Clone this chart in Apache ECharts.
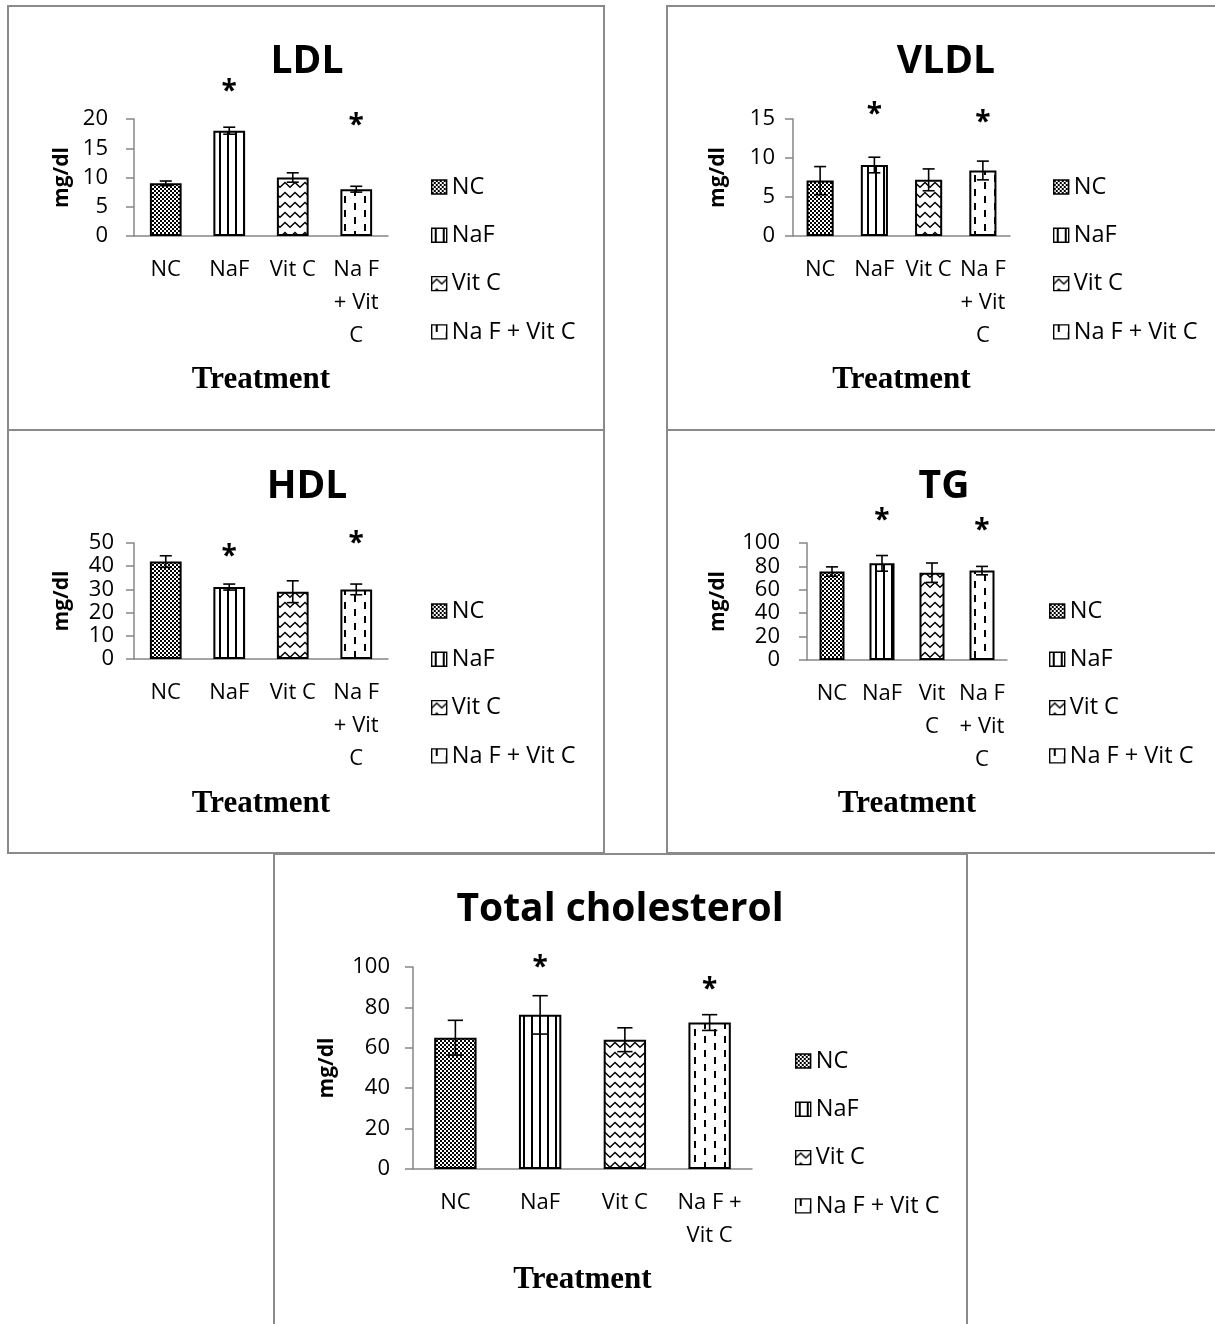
<!DOCTYPE html>
<html>
<head>
<meta charset="utf-8">
<script src="https://cdn.jsdelivr.net/npm/echarts@6/dist/echarts.min.js"></script>
<style>
html,body{margin:0;padding:0;background:#fff;}
#chart{width:1215px;height:1324px;}
</style>
</head>
<body>
<div id="chart"></div>
<script>
// ---------------- data ----------------
const categories = ['NC', 'NaF', 'Vit C', 'Na F + Vit C'];

const ldlTicks  = ['NC', 'NaF', 'Vit C', 'Na F\n+ Vit\nC'];
const vldlTicks = ['NC', 'NaF', 'Vit C', 'Na F\n+ Vit\nC'];
const hdlTicks  = ['NC', 'NaF', 'Vit C', 'Na F\n+ Vit\nC'];
const tgTicks   = ['NC', 'NaF', 'Vit\nC', 'Na F\n+ Vit\nC'];
const tcTicks   = ['NC', 'NaF', 'Vit C', 'Na F +\nVit C'];

const ldlMean  = [9, 18, 10, 8];
const ldlErr   = [0.4, 0.6, 0.8, 0.5];
const ldlStar  = [null, 25.6, null, 19.8];

const vldlMean = [7.1, 9.1, 7.2, 8.4];
const vldlErr  = [1.8, 1.0, 1.4, 1.2];
const vldlStar = [null, 16.3, null, 15.2];

const hdlMean  = [42, 31, 29, 30];
const hdlErr   = [2.5, 1.3, 4.7, 2.3];
const hdlStar  = [null, 46.4, null, 52.3];

const tgMean   = [75.6, 82.6, 74.6, 76.4];
const tgErr    = [4, 6.7, 8.3, 3.6];
const tgStar   = [null, 124, null, 115];

const tcMean   = [65, 76.3, 64, 72.5];
const tcErr    = [8.6, 9.5, 5.9, 3.9];
const tcStar   = [null, 102.4, null, 91.4];

const yMax      = [20, 15, 50, 100, 100];
const yInterval = [5, 5, 10, 20, 20];
const titles    = ['LDL', 'VLDL', 'HDL', 'TG', 'Total cholesterol'];

// ---------------- styling / layout ----------------
function makePattern(kind) {
  const c = document.createElement('canvas');
  let ctx;
  if (kind === 'checker') {
    c.width = 4; c.height = 4; ctx = c.getContext('2d');
    ctx.fillStyle = '#fff'; ctx.fillRect(0, 0, 4, 4);
    ctx.fillStyle = '#000'; ctx.fillRect(0, 0, 2, 2); ctx.fillRect(2, 2, 2, 2);
  } else if (kind === 'vlines') {
    c.width = 8; c.height = 8; ctx = c.getContext('2d');
    ctx.fillStyle = '#fff'; ctx.fillRect(0, 0, 8, 8);
    ctx.fillStyle = '#000'; ctx.fillRect(3, 0, 2, 8);
  } else if (kind === 'zigzag') {
    c.width = 10; c.height = 10; ctx = c.getContext('2d');
    ctx.fillStyle = '#fff'; ctx.fillRect(0, 0, 10, 10);
    ctx.strokeStyle = '#000'; ctx.lineWidth = 1.4;
    ctx.beginPath(); ctx.moveTo(-1, 8.3); ctx.lineTo(5, 2.5); ctx.lineTo(11, 8.3); ctx.stroke();
  } else {
    c.width = 20; c.height = 14; ctx = c.getContext('2d');
    ctx.fillStyle = '#fff'; ctx.fillRect(0, 0, 20, 14);
    ctx.fillStyle = '#000'; ctx.fillRect(4, 0, 2, 7); ctx.fillRect(14, 7, 2, 7);
  }
  return { image: c, repeat: 'repeat' };
}
const patterns = [makePattern('checker'), makePattern('vlines'), makePattern('zigzag'), makePattern('dashes')];

const FONT = 'Open Sans';
const AXIS_GRAY = '#868686';

const panels = [
  { mean: ldlMean,  err: ldlErr,  star: ldlStar,  ticks: ldlTicks,
    grid: { left: 134, top: 119, width: 254, height: 117 }, title: [307, 58],
    labelMargin: 26, nameGap: 61, legend: [431, 175], treatGap: 128.5 },
  { mean: vldlMean, err: vldlErr, star: vldlStar, ticks: vldlTicks,
    grid: { left: 793, top: 119, width: 217, height: 117 }, title: [946, 58],
    labelMargin: 18, nameGap: 64, legend: [1053, 175], treatGap: 128.5 },
  { mean: hdlMean,  err: hdlErr,  star: hdlStar,  ticks: hdlTicks,
    grid: { left: 134, top: 543, width: 254, height: 116 }, title: [307, 483],
    labelMargin: 20, nameGap: 61, legend: [431, 599], treatGap: 129.5 },
  { mean: tgMean,   err: tgErr,   star: tgStar,   ticks: tgTicks,
    grid: { left: 807, top: 543, width: 200, height: 117 }, title: [944, 483],
    labelMargin: 27, nameGap: 78, legend: [1049, 599], treatGap: 128.5 },
  { mean: tcMean,   err: tcErr,   star: tcStar,   ticks: tcTicks,
    grid: { left: 413, top: 967, width: 339, height: 202 }, title: [620, 906],
    labelMargin: 23, nameGap: 75, legend: [795, 1049], treatGap: 95.5 }
];

const option = {
  animation: false,
  backgroundColor: '#fff',
  title: [], grid: [], xAxis: [], yAxis: [], legend: [], series: [],
  graphic: []
};

// panel borders
const borders = [
  [8, 6, 596, 424], [667, 6, 560, 424],
  [8, 430, 596, 423], [667, 430, 560, 423],
  [274, 854, 693, 480]
];
borders.forEach(b => option.graphic.push({
  type: 'rect', shape: { x: b[0], y: b[1], width: b[2], height: b[3] },
  style: { fill: 'none', stroke: '#8a8a8a', lineWidth: 2 }, silent: true, z: -10
}));

panels.forEach((p, k) => {
  option.title.push({
    text: titles[k], left: p.title[0], top: p.title[1] - 20, textAlign: 'center', padding: 0,
    textStyle: { fontFamily: FONT, fontWeight: 'bold', fontSize: 39, color: '#000', lineHeight: 48 }
  });
  option.grid.push(Object.assign({ containLabel: false }, p.grid));
  option.xAxis.push({
    type: 'category', gridIndex: k, data: p.ticks,
    name: 'Treatment', nameLocation: 'middle', nameGap: p.treatGap,
    nameTextStyle: { fontFamily: 'Liberation Serif', fontWeight: 'bold', fontSize: 31, color: '#000', lineHeight: 31 },
    axisLine: { lineStyle: { color: AXIS_GRAY, width: 1.5 } },
    axisTick: { show: false },
    axisLabel: { interval: 0, fontFamily: FONT, fontSize: 22, lineHeight: 33, color: '#000', margin: 17 }
  });
  option.yAxis.push({
    type: 'value', gridIndex: k, min: 0, max: yMax[k], interval: yInterval[k],
    name: 'mg/dl', nameLocation: 'middle', nameRotate: 90, nameGap: p.nameGap,
    nameTextStyle: { fontFamily: FONT, fontWeight: 'bold', fontSize: 21, color: '#000' },
    axisLine: { show: true, lineStyle: { color: AXIS_GRAY, width: 1.5 } },
    axisTick: { show: true, length: 8, lineStyle: { color: AXIS_GRAY, width: 1.5 } },
    splitLine: { show: false },
    axisLabel: { fontFamily: FONT, fontSize: 22, color: '#000', margin: p.labelMargin }
  });
  option.legend.push({
    data: categories, orient: 'vertical', left: p.legend[0], top: p.legend[1],
    itemWidth: 15, itemHeight: 14, itemGap: 24.3, icon: 'rect', padding: 0, selectedMode: false,
    textStyle: { fontFamily: FONT, fontSize: 23.5, color: '#000', lineHeight: 24 },
    itemStyle: { borderColor: '#000', borderWidth: 1.4 }
  });
  categories.forEach((name, j) => {
    option.series.push({
      type: 'bar', name: name, xAxisIndex: k, yAxisIndex: k,
      barWidth: '50%', barGap: '-100%',
      itemStyle: { color: patterns[j], borderColor: '#000', borderWidth: 2 },
      data: p.mean.map((v, i) => (i === j ? v : '-'))
    });
  });
  // error bars
  option.series.push({
    type: 'custom', name: 'err' + k, xAxisIndex: k, yAxisIndex: k, z: 5, clip: false,
    data: p.mean.map((v, i) => [i, v, p.err[i]]),
    renderItem: function (params, api) {
      const i = api.value(0), v = api.value(1), e = api.value(2);
      const top = api.coord([i, v + e]);
      const bot = api.coord([i, v - e]);
      const hw = Math.max(6, api.size([1, 0])[0] * 0.09);
      const st = { stroke: '#000', lineWidth: 1.6 };
      return { type: 'group', children: [
        { type: 'line', shape: { x1: top[0], y1: top[1], x2: bot[0], y2: bot[1] }, style: st },
        { type: 'line', shape: { x1: top[0] - hw, y1: top[1], x2: top[0] + hw, y2: top[1] }, style: st },
        { type: 'line', shape: { x1: bot[0] - hw, y1: bot[1], x2: bot[0] + hw, y2: bot[1] }, style: st }
      ]};
    }
  });
  // significance stars
  option.series.push({
    type: 'custom', name: 'star' + k, xAxisIndex: k, yAxisIndex: k, z: 6, clip: false,
    data: p.star.map((s, i) => [i, s]).filter(d => d[1] !== null),
    renderItem: function (params, api) {
      const pt = api.coord([api.value(0), api.value(1)]);
      return { type: 'text', x: pt[0], y: pt[1] + 6, style: {
        text: '*', fill: '#000', font: 'bold 28px "Open Sans"',
        align: 'center', verticalAlign: 'middle', textAlign: 'center', textVerticalAlign: 'middle'
      }};
    }
  });
});

const chart = echarts.init(document.getElementById('chart'), null, { renderer: 'canvas' });
chart.setOption(option);
</script>
</body>
</html>
